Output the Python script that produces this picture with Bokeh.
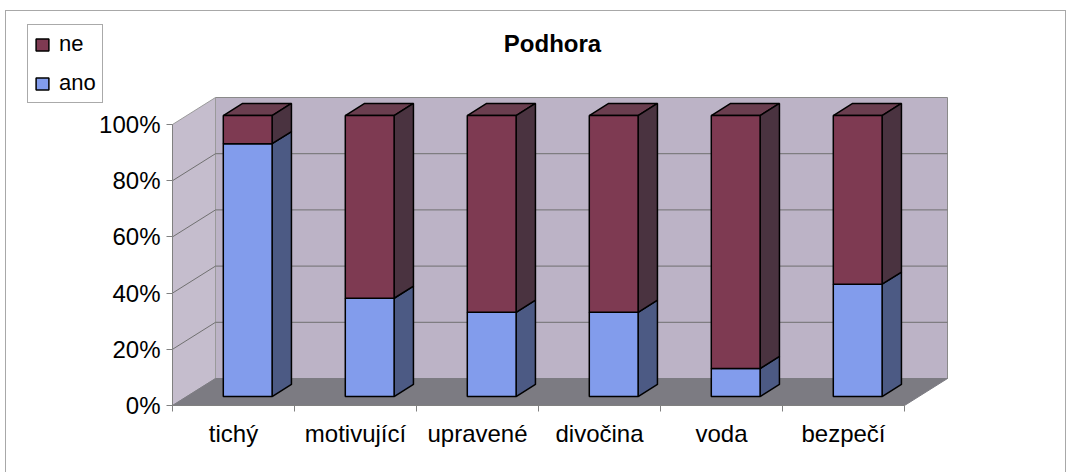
from bokeh.plotting import figure
from bokeh.models import Range1d, FixedTicker, LinearAxis, Legend, LegendItem, Label
from bokeh.embed import file_html
from bokeh.resources import INLINE

# ---------------- data ----------------
categories = ["tichý", "motivující", "upravené", "divočina", "voda", "bezpečí"]
ano = [90, 35, 30, 30, 10, 40]
ne = [10, 65, 70, 70, 90, 60]
series_labels = ["ano", "ne"]
y_ticks = [0, 20, 40, 60, 80, 100]
y_tick_labels = ["0%", "20%", "40%", "60%", "80%", "100%"]
title_text = "Podhora"

# ---------------- layout / style ----------------
OX, OY = 6, 11            # canvas origin on the page (after margin + border)
W, H = 1061, 462
AX_X, AX_Y = 172, 405     # page px of the front-left-bottom corner of the plot box
PXX = 122.0   # px per category unit
PXY = 2.81    # px per percent
DX = 43 / PXX   # depth offset in x units
DY = 27 / PXY   # depth offset in y units
F0, F1 = 0.33, 0.78
HALF = 0.2
NCAT = len(categories)
FONT = "Liberation Sans"

COL = {
    "ano": ("#829cec", "#4c5a84", "#6f82c0"),
    "ne": ("#7e3a52", "#4a3340", "#6a3e4f"),
}
WALL = "#bcb3c6"
SIDEWALL = "#c5bdcd"
FLOOR = "#7c7b82"
GRID = "#707070"


def P(x, y, d):
    return x + d * DX, y + d * DY


def poly(pts):
    xs, ys = [], []
    for (x, y, d) in pts:
        px, py = P(x, y, d)
        xs.append(px)
        ys.append(py)
    return xs, ys


x_range = Range1d((OX - AX_X) / PXX, (OX + W - AX_X) / PXX)
y_range = Range1d((AX_Y - (OY + H)) / PXY, (AX_Y - OY) / PXY)

p = figure(width=W, height=H, x_range=x_range, y_range=y_range,
           min_border=0, output_backend="svg", toolbar_location=None,
           x_axis_type=None, y_axis_type=None)
p.title.text = ""
p.xgrid.visible = False
p.ygrid.visible = False
p.outline_line_color = None
p.background_fill_color = "white"
p.border_fill_color = "white"
p.styles = {"margin-left": "5px", "margin-top": "10px",
            "border-left": "1px solid #a8a8a8", "border-top": "1px solid #a8a8a8",
            "border-right": "1px solid #a8a8a8"}

ymax = y_ticks[-1]
# walls
bx, by = poly([(0, 0, 1), (NCAT, 0, 1), (NCAT, ymax, 1), (0, ymax, 1)])
p.patch(bx, by, fill_color=WALL, line_color="#8a8a8a", line_width=1)
lx, ly = poly([(0, 0, 0), (0, 0, 1), (0, ymax, 1), (0, ymax, 0)])
p.patch(lx, ly, fill_color=SIDEWALL, line_color="#9a9a9a", line_width=1)
fx, fy = poly([(0, 0, 0), (NCAT, 0, 0), (NCAT, 0, 1), (0, 0, 1)])
p.patch(fx, fy, fill_color=FLOOR, line_color=FLOOR, line_width=1)

# gridlines
gxs, gys = [], []
for t in y_ticks[1:-1]:
    x1, y1 = poly([(0, t, 0), (0, t, 1), (NCAT, t, 1)])
    gxs.append(x1)
    gys.append(y1)
p.multi_line(gxs, gys, line_color=GRID, line_width=1)

# bars
front_renderers = {}
bottoms = [0] * NCAT
for name, vals in (("ano", ano), ("ne", ne)):
    fr, sd, tp = COL[name]
    FX, FY, SX, SY, TX, TY = [], [], [], [], [], []
    for i, v in enumerate(vals):
        y0 = bottoms[i]
        y1 = y0 + v
        x0 = i + 0.5 - HALF
        x1 = i + 0.5 + HALF
        a, b = poly([(x0, y0, F0), (x1, y0, F0), (x1, y1, F0), (x0, y1, F0)])
        FX.append(a); FY.append(b)
        a, b = poly([(x1, y0, F0), (x1, y0, F1), (x1, y1, F1), (x1, y1, F0)])
        SX.append(a); SY.append(b)
        a, b = poly([(x0, y1, F0), (x1, y1, F0), (x1, y1, F1), (x0, y1, F1)])
        TX.append(a); TY.append(b)
        bottoms[i] = y1
    p.patches(TX, TY, fill_color=tp, line_color="black", line_width=1.5)
    p.patches(SX, SY, fill_color=sd, line_color="black", line_width=1.5)
    front_renderers[name] = p.patches(FX, FY, fill_color=fr, line_color="black", line_width=1.5)

# axes (drawn at the front edges of the 3D box)
yaxis = LinearAxis(ticker=FixedTicker(ticks=y_ticks, minor_ticks=[]), bounds=(0, ymax),
                   major_label_overrides={t: l for t, l in zip(y_ticks, y_tick_labels)})
yaxis.fixed_location = 0
yaxis.axis_line_color = "#808080"
yaxis.major_tick_line_color = "#808080"
yaxis.major_tick_out = 6
yaxis.major_tick_in = 0
yaxis.minor_tick_line_color = None
yaxis.major_label_text_font = FONT
yaxis.major_label_text_font_size = "24px"
yaxis.major_label_text_color = "black"
yaxis.major_label_standoff = 6
p.add_layout(yaxis, "left")

centers = [i + 0.5 for i in range(NCAT)]
xaxis = LinearAxis(ticker=FixedTicker(ticks=centers, minor_ticks=list(range(NCAT + 1))),
                   bounds=(0, NCAT),
                   major_label_overrides={c: l for c, l in zip(centers, categories)})
xaxis.fixed_location = 0
xaxis.axis_line_color = "#808080"
xaxis.major_tick_line_color = None
xaxis.minor_tick_line_color = "#808080"
xaxis.minor_tick_out = 6
xaxis.minor_tick_in = 0
xaxis.major_label_text_font = FONT
xaxis.major_label_text_font_size = "24px"
xaxis.major_label_text_color = "black"
xaxis.major_label_standoff = 8
p.add_layout(xaxis, "below")

# title
p.add_layout(Label(x=(552 - AX_X) / PXX, y=(AX_Y - 43) / PXY, text=title_text,
                   text_align="center", text_baseline="middle", text_font=FONT,
                   text_font_style="bold", text_font_size="24px", text_color="black"))

# legend (location in px from the frame's bottom-left corner)
legend = Legend(items=[LegendItem(label=series_labels[1], renderers=[front_renderers["ne"]]),
                       LegendItem(label=series_labels[0], renderers=[front_renderers["ano"]])],
                location=(27 - OX, (OY + H) - 103))
legend.label_text_font = FONT
legend.label_text_font_size = "22px"
legend.label_text_color = "black"
legend.glyph_width = 16
legend.glyph_height = 15
legend.label_height = 20
legend.spacing = 13
legend.padding = 6
legend.margin = 0
legend.label_standoff = 9
legend.border_line_color = "#555555"
legend.border_line_width = 1
legend.background_fill_color = "white"
legend.background_fill_alpha = 1
p.add_layout(legend, "center")

open("out.html", "w").write(file_html(p, INLINE))
